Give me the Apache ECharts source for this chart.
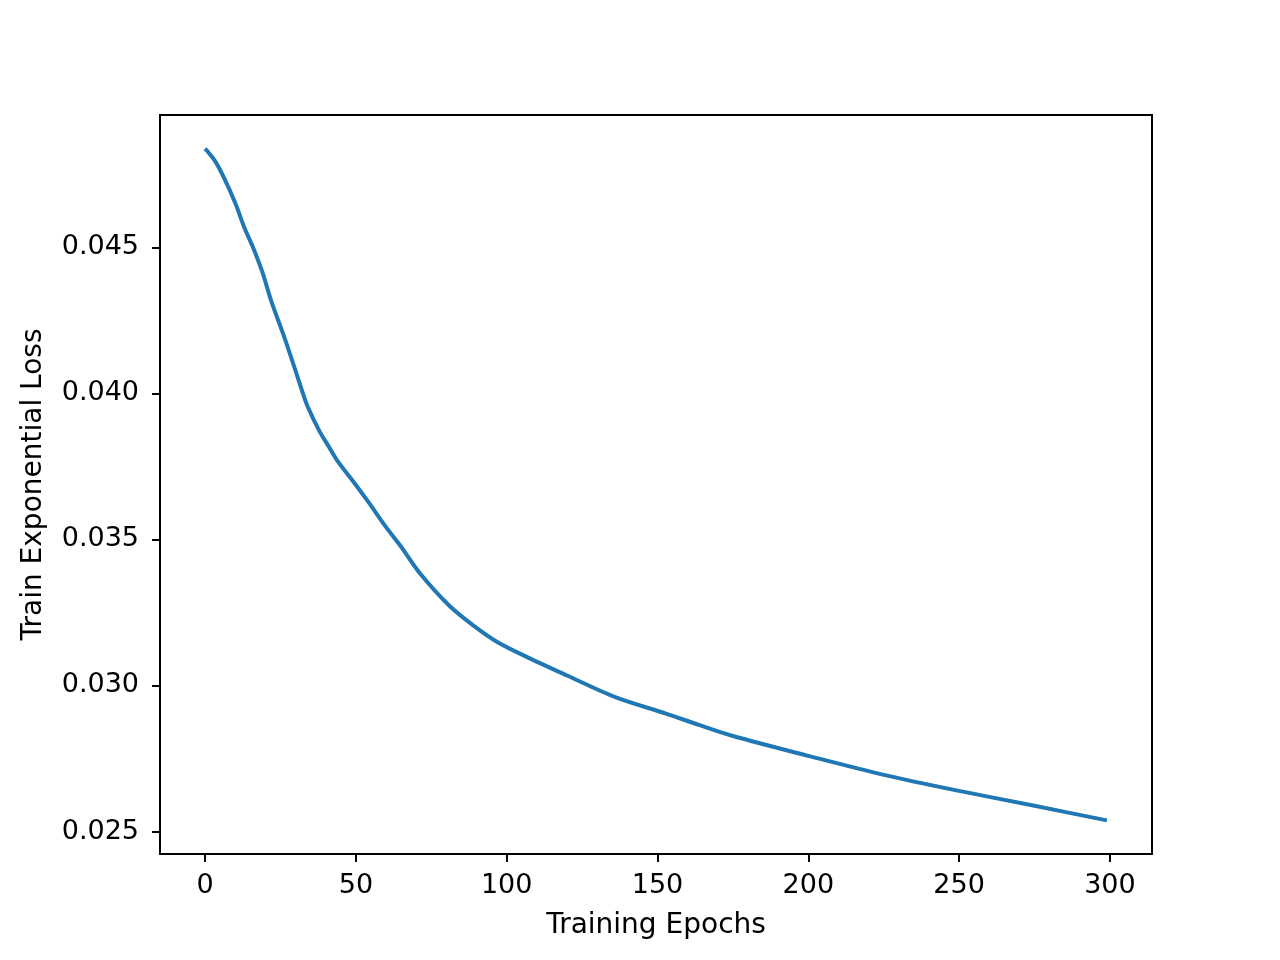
<!DOCTYPE html>
<html>
<head>
<meta charset="utf-8">
<script src="https://cdn.jsdelivr.net/npm/echarts@6/dist/echarts.min.js"></script>
<style>
  html, body { margin: 0; padding: 0; background: #fff; }
  #chart { width: 1280px; height: 960px; }
</style>
</head>
<body>
<div id="chart"></div>
<script>
// values
const epochs = [0, 3, 6, 10, 13, 16, 19, 22, 26, 30, 32, 34, 38, 41, 44, 49, 54, 60, 65, 71,
  81, 89, 97, 108, 120, 136, 153, 164, 175, 200, 225, 250, 275, 299];
const trainLoss = [0.04838, 0.04800, 0.04744, 0.04652, 0.04568, 0.04497, 0.04415, 0.04314, 0.04200, 0.04077,
  0.04014, 0.03955, 0.03869, 0.03818, 0.03767, 0.03700, 0.03630, 0.03542, 0.03475, 0.03387,
  0.03273, 0.03205, 0.03148, 0.03091, 0.03034, 0.02960, 0.02903, 0.02864, 0.02827, 0.02759,
  0.02694, 0.02639, 0.02588, 0.02538];
const xTicks = [0, 50, 100, 150, 200, 250, 300];
const yTicks = [0.025, 0.030, 0.035, 0.040, 0.045];

const font = 'DejaVu Sans';
const myChart = echarts.init(document.getElementById('chart'), null, { renderer: 'canvas' });

const option = {
  backgroundColor: '#ffffff',
  animation: false,
  textStyle: { fontFamily: font },
  grid: {
    left: 160, right: 128, top: 115, bottom: 106,
    outerBoundsMode: 'none',
    show: true, borderColor: '#000', borderWidth: 2, backgroundColor: 'transparent'
  },
  xAxis: {
    type: 'value',
    min: -14.95, max: 313.95,
    name: 'Training Epochs',
    nameLocation: 'middle',
    nameGap: 58,
    nameTextStyle: { fontSize: 28, color: '#000', fontFamily: font },
    axisLine: { show: true, onZero: false, lineStyle: { color: '#000', width: 2 } },
    axisTick: { show: true, length: 8, lineStyle: { color: '#000', width: 2 }, customValues: xTicks },
    axisLabel: { fontSize: 27, color: '#000', margin: 18, fontFamily: font, customValues: xTicks },
    splitLine: { show: false }
  },
  yAxis: {
    type: 'value',
    min: 0.02423, max: 0.04953,
    name: 'Train Exponential Loss',
    nameLocation: 'middle',
    nameGap: 112,
    nameTextStyle: { fontSize: 28, color: '#000', fontFamily: font },
    axisLine: { show: true, onZero: false, lineStyle: { color: '#000', width: 2 } },
    axisTick: { show: true, length: 8, lineStyle: { color: '#000', width: 2 }, customValues: yTicks },
    axisLabel: {
      fontSize: 27, color: '#000', margin: 21, fontFamily: font, customValues: yTicks,
      formatter: v => v.toFixed(3)
    },
    splitLine: { show: false }
  },
  series: [{
    type: 'line',
    data: epochs.map((e, i) => [e, trainLoss[i]]),
    smooth: 0.3,
    showSymbol: false,
    lineStyle: { color: '#1f77b4', width: 4 },
    itemStyle: { color: '#1f77b4' }
  }]
};

myChart.setOption(option);
</script>
</body>
</html>
